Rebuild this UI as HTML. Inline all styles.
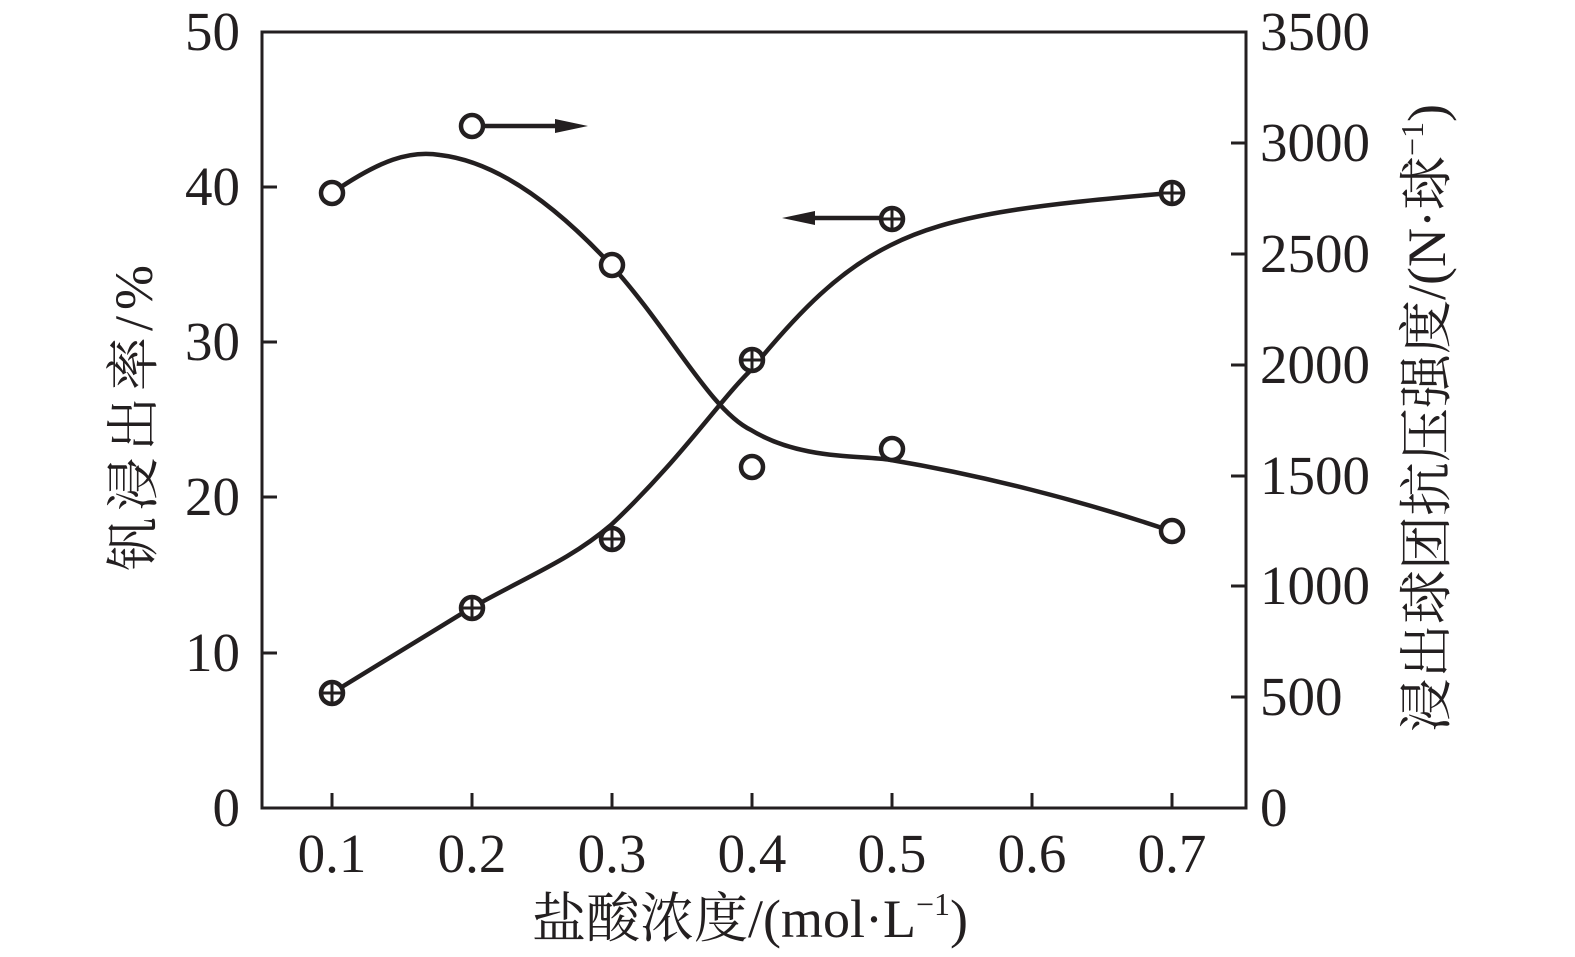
<!DOCTYPE html>
<html><head><meta charset="utf-8"><style>html,body{margin:0;padding:0;background:#fff}</style></head>
<body>
<svg width="1575" height="957" viewBox="0 0 1575 957" xmlns="http://www.w3.org/2000/svg" style="display:block">
<g stroke="#231f20" stroke-width="3" fill="none">
<rect x="262" y="32" width="984" height="776"/>
<path d="M332 808v-15M472 808v-15M612 808v-15M752 808v-15M892 808v-15M1032 808v-15M1172 808v-15"/>
<path d="M262 187h15M262 342h15M262 497h15M262 653h15"/>
<path d="M1246 143h-15M1246 254h-15M1246 365h-15M1246 476h-15M1246 586h-15M1246 697h-15"/>
</g>
<g stroke="#231f20" stroke-width="4.5" fill="none">
<path d="M332 193 C380 160,410 150,440 155 C500 162,560 210,611 265 C670 330,710 410,751 430 C800 460,860 455,891 460 C980 475,1080 500,1171 531"/>
<path d="M332 693 L471 608 C530 575,570 560,611 525 C680 460,720 400,751 370 C800 310,840 270,891 245 C950 215,1030 205,1171 193"/>
<path d="M472 126H560"/>
<path d="M891 218H810"/>
</g>
<path d="M555 119L588 126L555 133Z" fill="#231f20"/>
<path d="M815 211L782 218L815 225Z" fill="#231f20"/>
<g stroke="#231f20" stroke-width="4.5" fill="#fff">
<circle cx="332" cy="193" r="11"/><circle cx="472" cy="126" r="11"/><circle cx="612" cy="265" r="11"/>
<circle cx="752" cy="467" r="11"/><circle cx="892" cy="449" r="11"/><circle cx="1172" cy="531" r="11"/>
<circle cx="332" cy="693" r="11"/><circle cx="472" cy="608" r="11"/><circle cx="612" cy="539" r="11"/>
<circle cx="752" cy="360" r="11"/><circle cx="892" cy="219" r="11"/><circle cx="1172" cy="193" r="11"/>
</g>
<g stroke="#231f20" stroke-width="3">
<path d="M321 693h22M332 682v22M461 608h22M472 597v22M601 539h22M612 528v22M741 360h22M752 349v22M881 219h22M892 208v22M1161 193h22M1172 182v22"/>
</g>
<g font-family="Liberation Serif, serif" font-size="55" fill="#231f20">
<g text-anchor="end">
<text x="240" y="50">50</text><text x="240" y="205">40</text><text x="240" y="360">30</text>
<text x="240" y="515">20</text><text x="240" y="671">10</text><text x="240" y="826">0</text>
</g>
<g text-anchor="start">
<text x="1260" y="50">3500</text><text x="1260" y="161">3000</text><text x="1260" y="272">2500</text>
<text x="1260" y="383">2000</text><text x="1260" y="494">1500</text><text x="1260" y="604">1000</text>
<text x="1260" y="715">500</text><text x="1260" y="826">0</text>
</g>
<g text-anchor="middle">
<text x="332" y="872">0.1</text><text x="472" y="872">0.2</text><text x="612" y="872">0.3</text>
<text x="752" y="872">0.4</text><text x="892" y="872">0.5</text><text x="1032" y="872">0.6</text><text x="1172" y="872">0.7</text>
</g>
</g>
<g font-family="Liberation Serif, 'Noto Serif CJK SC', serif" font-size="54" fill="#231f20">
<text x="750" y="937" text-anchor="middle">盐酸浓度/(mol·L<tspan font-size="32" dy="-22">−1</tspan><tspan dy="22">)</tspan></text>
<text transform="translate(152,415) rotate(-90)" text-anchor="middle" letter-spacing="6">钒浸出率/%</text>
<text transform="translate(1445,418) rotate(-90)" text-anchor="middle">浸出球团抗压强度/(N·球<tspan font-size="32" dy="-22">−1</tspan><tspan dy="22">)</tspan></text>
</g>
</svg>
</body></html>
